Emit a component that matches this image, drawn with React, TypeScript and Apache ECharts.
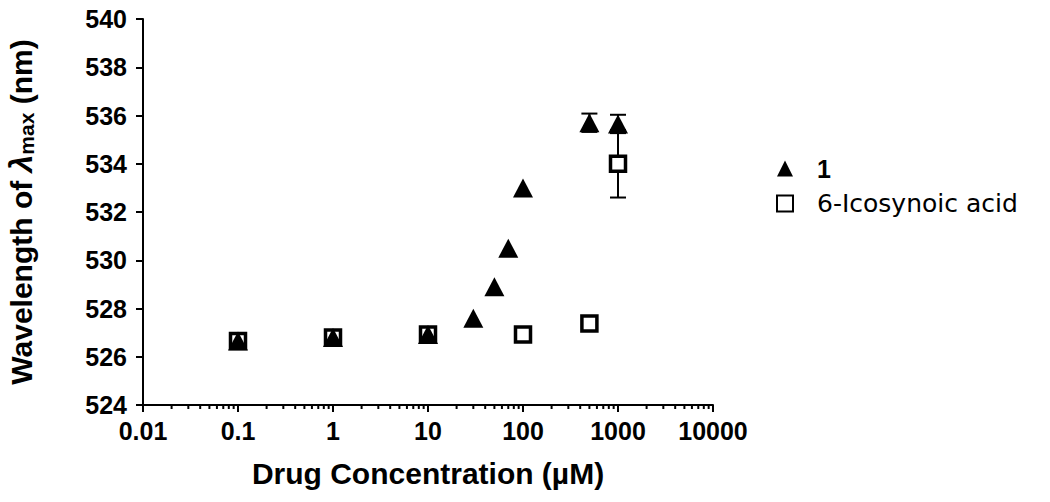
import React, { useEffect, useRef } from "react";
import * as echarts from "echarts";

const concTri = [0.1, 1, 10, 30, 50, 70, 100, 500, 1000];
const waveTri = [526.65, 526.8, 526.92, 527.6, 528.9, 530.5, 533.0, 535.7, 535.65];
const errTri = [0, 0, 0, 0, 0, 0, 0, 0.38, 0.38];

const concSq = [0.1, 1, 10, 100, 500, 1000];
const waveSq = [526.65, 526.8, 526.92, 526.92, 527.38, 534.0];
const errSq = [0, 0, 0, 0, 0, 1.4];

const yTicks = { min: 524, max: 540, interval: 2 };
const xRange = { min: 0.01, max: 10000 };
const seriesNames = ["1", "6-Icosynoic acid"];

const minorTickValues: number[] = [];
for (let e = -2; e < 4; e++) {
  for (let m = 2; m <= 9; m++) minorTickValues.push(+(m * Math.pow(10, e)).toPrecision(6));
}

const errData = (xs: number[], ys: number[], es: number[]) =>
  xs.map((x, i) => [x, ys[i], es[i]]).filter((d) => d[2] > 0);

const errRender = (params: any, api: any) => {
  const x = api.value(0);
  const y = api.value(1);
  const e = api.value(2);
  const top = api.coord([x, y + e]);
  const bot = api.coord([x, y - e]);
  const w = 8;
  const style = { stroke: "#000", lineWidth: 2 };
  return {
    type: "group",
    children: [
      { type: "line", shape: { x1: top[0], y1: top[1], x2: bot[0], y2: bot[1] }, style },
      { type: "line", shape: { x1: top[0] - w, y1: top[1], x2: top[0] + w, y2: top[1] }, style },
      { type: "line", shape: { x1: bot[0] - w, y1: bot[1], x2: bot[0] + w, y2: bot[1] }, style },
    ],
  };
};

export default function App() {
  const ref = useRef<HTMLDivElement>(null);
  useEffect(() => {
    const chart = echarts.init(ref.current!, null, { renderer: "svg" });
    const font = "Liberation Sans, Arial, sans-serif";
    chart.setOption({
      animation: false,
      textStyle: { fontFamily: font },
      grid: { left: 143, right: 337, top: 19, bottom: 97, outerBoundsMode: "none", containLabel: false },
      legend: {
        data: seriesNames,
        orient: "vertical",
        left: 771,
        top: 151,
        itemGap: 10,
        itemWidth: 16,
        itemHeight: 16,
        selectedMode: false,
        formatter: (name: string) => (name === "1" ? "{b|" + name + "}" : "{n|" + name + "}"),
        textStyle: {
          color: "#000",
          fontFamily: font,
          rich: {
            b: { fontSize: 25, fontWeight: "bold", color: "#000", fontFamily: font, padding: [0, 0, 0, 19], lineHeight: 24 },
            n: { fontSize: 25, color: "#000", fontFamily: "DejaVu Sans", padding: [0, 0, 0, 19], lineHeight: 24 },
          },
        },
      },
      xAxis: {
        type: "log",
        logBase: 10,
        min: xRange.min,
        max: xRange.max,
        name: "Drug Concentration (\u00b5M)",
        nameLocation: "middle",
        nameGap: 53,
        nameTextStyle: { fontSize: 30, fontWeight: "bold", color: "#000", fontFamily: font },
        axisLine: { lineStyle: { color: "#000", width: 2 } },
        axisTick: { length: 7, lineStyle: { color: "#000", width: 2 } },
        axisLabel: {
          fontSize: 25,
          fontWeight: "bold",
          color: "#000",
          margin: 13,
          formatter: (v: number) => String(+v.toPrecision(6)),
        },
        splitLine: { show: false },
      },
      yAxis: {
        type: "value",
        min: yTicks.min,
        max: yTicks.max,
        interval: yTicks.interval,
        name: "{a|Wavelength of }{l|\u03bb}{s|max}{a| (nm)}",
        nameLocation: "middle",
        nameRotate: 90,
        nameGap: 106,
        nameTextStyle: {
          color: "#000",
          fontFamily: font,
          rich: {
            a: { fontSize: 30, fontWeight: "bold", color: "#000", fontFamily: font },
            l: { fontSize: 32, fontWeight: "bold", fontStyle: "italic", color: "#000", fontFamily: font },
            s: { fontSize: 21, fontWeight: "bold", color: "#000", fontFamily: font, padding: [10, 0, 0, 0] },
          },
        },
        axisLine: { show: true, lineStyle: { color: "#000", width: 2 } },
        axisTick: { show: true, length: 7, lineStyle: { color: "#000", width: 2 } },
        axisLabel: { fontSize: 25, fontWeight: "bold", color: "#000", margin: 16 },
        splitLine: { show: false },
      },
      series: [
        {
          type: "custom",
          name: "minorTicks",
          silent: true,
          clip: false,
          z: 1,
          data: minorTickValues.map((v) => [v, yTicks.min]),
          renderItem: (params: any, api: any) => {
            const p = api.coord([api.value(0), api.value(1)]);
            return {
              type: "line",
              shape: { x1: p[0], y1: p[1], x2: p[0], y2: p[1] + 4 },
              style: { stroke: "#000", lineWidth: 2 },
            };
          },
        },
        {
          type: "custom",
          name: "errSq",
          silent: true,
          z: 2,
          data: errData(concSq, waveSq, errSq),
          renderItem: errRender,
        },
        {
          type: "custom",
          name: "errTri",
          silent: true,
          z: 2,
          data: errData(concTri, waveTri, errTri),
          renderItem: errRender,
        },
        {
          type: "scatter",
          name: seriesNames[1],
          z: 3,
          symbol: "rect",
          symbolSize: 15,
          itemStyle: { color: "#fff", borderColor: "#000", borderWidth: 3.5, opacity: 1 },
          data: concSq.map((x, i) => [x, waveSq[i]]),
        },
        {
          type: "scatter",
          name: seriesNames[0],
          z: 4,
          symbol: "triangle",
          symbolSize: [20, 19],
          itemStyle: { color: "#000", opacity: 1 },
          data: concTri.map((x, i) => [x, waveTri[i]]),
        },
      ],
    } as any);
    return () => chart.dispose();
  }, []);
  return <div ref={ref} style={{ width: 1050, height: 502, position: "absolute", left: 0, top: 0 }} />;
}
